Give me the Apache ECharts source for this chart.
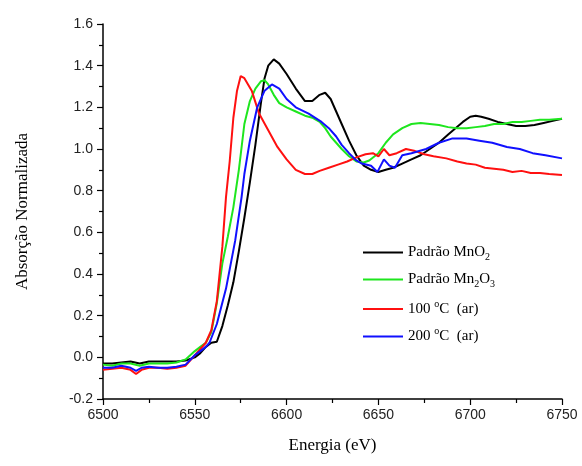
<!DOCTYPE html>
<html>
<head>
<meta charset="utf-8">
<script src="https://cdn.jsdelivr.net/npm/echarts@6/dist/echarts.min.js"></script>
<style>
  html, body { margin: 0; padding: 0; background: #fff; }
  #chart { width: 582px; height: 466px; }
</style>
</head>
<body>
<div id="chart"></div>
<script>
  // energia (eV) e absorção
  const mno2X = [6500, 6505, 6510, 6515, 6520, 6525, 6530, 6535, 6540, 6545, 6550, 6553, 6556, 6559, 6562, 6565, 6568, 6571, 6574, 6577, 6580, 6583, 6586, 6588, 6590, 6593, 6596, 6600, 6605, 6610, 6614, 6618, 6621, 6624, 6627, 6630, 6634, 6638, 6642, 6646, 6650, 6654, 6658, 6663, 6668, 6673, 6678, 6683, 6688, 6692, 6696, 6700, 6703, 6706, 6710, 6715, 6720, 6725, 6730, 6735, 6740, 6745, 6750];
  const mno2Y = [-0.03, -0.03, -0.025, -0.02, -0.03, -0.02, -0.02, -0.02, -0.02, -0.015, 0.0, 0.02, 0.05, 0.07, 0.075, 0.15, 0.25, 0.36, 0.51, 0.67, 0.84, 1.02, 1.22, 1.34, 1.4, 1.43, 1.41, 1.36, 1.29, 1.23, 1.23, 1.26, 1.27, 1.24, 1.18, 1.12, 1.04, 0.97, 0.92, 0.9, 0.89, 0.9, 0.91, 0.93, 0.95, 0.97, 1.0, 1.03, 1.07, 1.1, 1.13, 1.155, 1.16, 1.155, 1.145, 1.13, 1.12, 1.11, 1.11, 1.115, 1.125, 1.135, 1.145];

  const mn2o3X = [6500, 6505, 6510, 6515, 6520, 6525, 6530, 6535, 6540, 6545, 6550, 6553, 6556, 6559, 6562, 6565, 6568, 6571, 6574, 6577, 6580, 6583, 6586, 6588, 6590, 6593, 6596, 6600, 6605, 6610, 6614, 6618, 6621, 6624, 6627, 6630, 6634, 6638, 6642, 6645, 6650, 6654, 6658, 6663, 6668, 6673, 6678, 6683, 6688, 6693, 6698, 6703, 6708, 6713, 6718, 6723, 6728, 6733, 6738, 6743, 6750];
  const mn2o3Y = [-0.035, -0.04, -0.03, -0.03, -0.04, -0.03, -0.03, -0.03, -0.025, -0.01, 0.03, 0.05, 0.07, 0.12, 0.26, 0.45, 0.58, 0.72, 0.9, 1.12, 1.23, 1.29, 1.325, 1.33, 1.31, 1.26, 1.22, 1.2, 1.18, 1.16, 1.15, 1.13, 1.1, 1.06, 1.03, 1.0, 0.965, 0.94, 0.935, 0.945, 0.98, 1.03, 1.07, 1.1, 1.12, 1.125, 1.12, 1.115, 1.105, 1.1, 1.1, 1.105, 1.11, 1.12, 1.12, 1.13, 1.13, 1.135, 1.14, 1.14, 1.145];

  const ar100X = [6500, 6505, 6510, 6515, 6518, 6521, 6525, 6530, 6535, 6540, 6545, 6550, 6553, 6556, 6559, 6562, 6565, 6567, 6569, 6571, 6573, 6575, 6577, 6579, 6581, 6585, 6590, 6595, 6600, 6605, 6610, 6614, 6618, 6623, 6628, 6633, 6638, 6643, 6647, 6650, 6653, 6656, 6660, 6665, 6670, 6675, 6680, 6687, 6693, 6698, 6703, 6708, 6713, 6718, 6723, 6728, 6733, 6738, 6743, 6750];
  const ar100Y = [-0.06, -0.055, -0.05, -0.06, -0.08, -0.06, -0.05, -0.05, -0.055, -0.05, -0.04, 0.01, 0.04, 0.07, 0.13, 0.27, 0.53, 0.77, 0.94, 1.15, 1.28, 1.35, 1.34, 1.31, 1.28, 1.17, 1.09, 1.01, 0.95, 0.9, 0.88, 0.88, 0.895, 0.91, 0.925, 0.94, 0.96, 0.975, 0.98, 0.965, 1.0, 0.97, 0.98, 1.0, 0.99, 0.975, 0.965, 0.955, 0.94, 0.93, 0.925, 0.91, 0.905, 0.9, 0.89, 0.895, 0.885, 0.885, 0.88, 0.875];

  const ar200X = [6500, 6505, 6510, 6515, 6518, 6521, 6525, 6530, 6535, 6540, 6545, 6550, 6553, 6556, 6558, 6562, 6567, 6572, 6575.5, 6577, 6580, 6584, 6588, 6592, 6596, 6600, 6605, 6612, 6619, 6623, 6627, 6630, 6634, 6638, 6641, 6646, 6649.5, 6653, 6656, 6659, 6663, 6668, 6676, 6683, 6690, 6698, 6705, 6712, 6720, 6727, 6734, 6741, 6750];
  const ar200Y = [-0.05, -0.05, -0.04, -0.05, -0.065, -0.05, -0.045, -0.05, -0.05, -0.045, -0.035, 0.01, 0.03, 0.05, 0.07, 0.16, 0.33, 0.56, 0.77, 0.88, 1.04, 1.2, 1.28, 1.31, 1.29, 1.24, 1.2, 1.17, 1.13, 1.1, 1.06, 1.02, 0.98, 0.945, 0.93, 0.92, 0.89, 0.95, 0.92, 0.91, 0.97, 0.98, 1.0, 1.03, 1.05, 1.05, 1.04, 1.03, 1.01, 1.0, 0.98, 0.97, 0.955];

  const serif = '"Liberation Serif", "DejaVu Serif", serif';
  const sans = '"Liberation Sans", Arial, sans-serif';

  const pair = (xs, ys) => xs.map((x, i) => [x, ys[i]]);

  const chart = echarts.init(document.getElementById('chart'));

  const legendNames = {
    'MnO2': '{a|Padrão MnO}{sub|2}',
    'Mn2O3': '{a|Padrão Mn}{sub|2}{a|O}{sub|3}',
    '100C': '{a|100 }{sup|o}{a|C  (ar)}',
    '200C': '{a|200 }{sup|o}{a|C  (ar)}',
  };

  const mkSeries = (name, color, data) => ({
    name: name,
    type: 'line',
    symbol: 'none',
    smooth: false,
    lineStyle: { color: color, width: 2 },
    itemStyle: { color: color },
    data: data,
  });

  chart.setOption({
    animation: false,
    grid: { left: 103, right: 20, top: 24, bottom: 67 },
    legend: {
      orient: 'vertical',
      left: 358,
      top: 240,
      icon: 'rect',
      itemWidth: 40,
      itemHeight: 2,
      itemGap: 10,
      data: ['MnO2', 'Mn2O3', '100C', '200C'],
      formatter: (n) => legendNames[n],
      textStyle: {
        color: '#000',
        rich: {
          a: { fontFamily: serif, fontSize: 15, color: '#000' },
          sub: { fontFamily: serif, fontSize: 10, color: '#000', padding: [9, 0, 0, 0] },
          sup: { fontFamily: serif, fontSize: 10, color: '#000', padding: [0, 0, 10, 0] },
        },
      },
    },
    xAxis: {
      type: 'value',
      min: 6500,
      max: 6750,
      interval: 50,
      name: 'Energia (eV)',
      nameLocation: 'middle',
      nameGap: 38,
      nameTextStyle: { fontFamily: serif, fontSize: 17, color: '#000' },
      axisLine: { onZero: false, lineStyle: { color: '#000', width: 1.5 } },
      axisTick: { inside: false, length: 6, lineStyle: { color: '#000', width: 1.2 } },
      minorTick: { show: true, splitNumber: 2, length: 4, lineStyle: { color: '#000', width: 1.2 } },
      axisLabel: { fontFamily: sans, fontSize: 14, color: '#222', margin: 9, formatter: (v) => String(v) },
      splitLine: { show: false },
    },
    yAxis: {
      type: 'value',
      min: -0.2,
      max: 1.6,
      interval: 0.2,
      name: 'Absorção Normalizada',
      nameLocation: 'middle',
      nameGap: 72,
      nameTextStyle: { fontFamily: serif, fontSize: 17, color: '#000' },
      axisLine: { show: true, onZero: false, lineStyle: { color: '#000', width: 1.5 } },
      axisTick: { show: true, inside: false, length: 6, lineStyle: { color: '#000', width: 1.2 } },
      minorTick: { show: true, splitNumber: 2, length: 4, lineStyle: { color: '#000', width: 1.2 } },
      axisLabel: {
        fontFamily: sans,
        fontSize: 14,
        color: '#222',
        margin: 10,
        formatter: (v) => v.toFixed(1),
      },
      splitLine: { show: false },
    },
    series: [
      mkSeries('MnO2', '#000000', pair(mno2X, mno2Y)),
      mkSeries('Mn2O3', '#1ee61e', pair(mn2o3X, mn2o3Y)),
      mkSeries('100C', '#ff1010', pair(ar100X, ar100Y)),
      mkSeries('200C', '#1010ff', pair(ar200X, ar200Y)),
    ],
  });
</script>
</body>
</html>
